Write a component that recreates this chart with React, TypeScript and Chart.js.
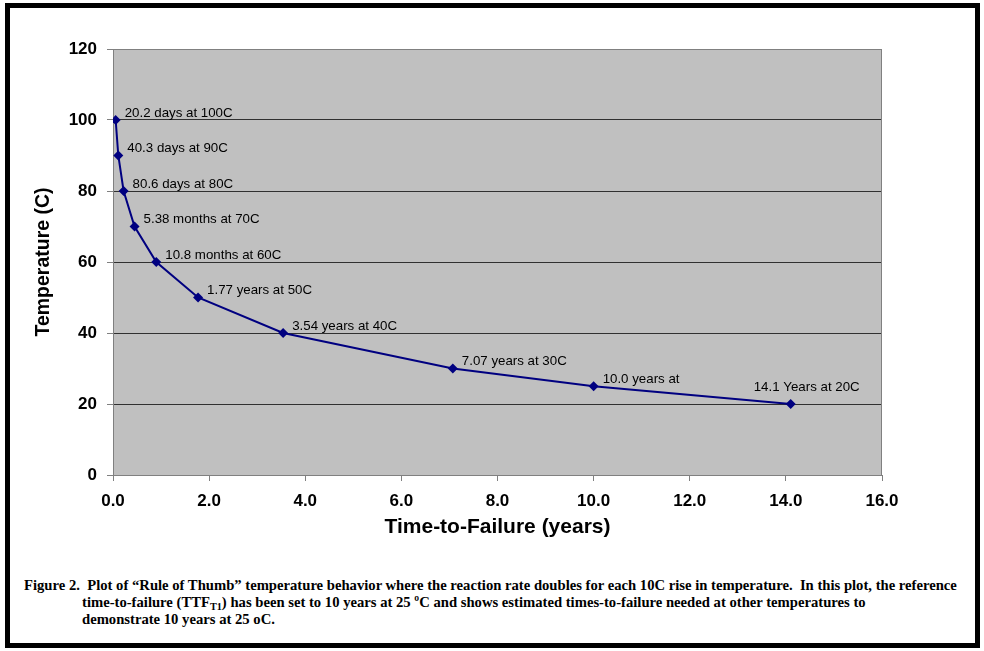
import React, { useEffect, useRef } from "react";
import { Chart, registerables } from "chart.js";

Chart.register(...registerables);

// ---- data ----
const temperatureC = [100, 90, 80, 70, 60, 50, 40, 30, 25, 20];
const timeToFailureYears = [0.0553, 0.1104, 0.2208, 0.4483, 0.9, 1.77, 3.54, 7.07, 10.0, 14.1];
const pointLabels = [
  "20.2 days at 100C",
  "40.3 days at 90C",
  "80.6 days at 80C",
  "5.38 months at 70C",
  "10.8 months at 60C",
  "1.77 years at 50C",
  "3.54 years at 40C",
  "7.07 years at 30C",
  "10.0 years at",
  "14.1 Years at 20C",
];
const xTickValues = [0, 2, 4, 6, 8, 10, 12, 14, 16];
const yTickValues = [0, 20, 40, 60, 80, 100, 120];
const xTitle = "Time-to-Failure (years)";
const yTitle = "Temperature (C)";

const FONT = "Arial, 'Liberation Sans', sans-serif";
const SERIF = "'Liberation Serif', 'Times New Roman', serif";

const plotBackground = {
  id: "plotBackground",
  beforeDraw(chart: any) {
    const { ctx, chartArea: a } = chart;
    ctx.save();
    ctx.fillStyle = "#c0c0c0";
    ctx.fillRect(a.left, a.top, a.right - a.left, a.bottom - a.top);
    ctx.restore();
  },
  beforeDatasetsDraw(chart: any) {
    const { ctx, chartArea: a } = chart;
    ctx.save();
    ctx.strokeStyle = "#808080";
    ctx.lineWidth = 1;
    ctx.strokeRect(a.left + 0.5, a.top + 0.5, a.right - a.left - 1, a.bottom - a.top);
    ctx.restore();
  },
};

const pointLabelPlugin = {
  id: "pointLabelPlugin",
  afterDatasetsDraw(chart: any) {
    const { ctx } = chart;
    const meta = chart.getDatasetMeta(0);
    ctx.save();
    ctx.font = `13.3px ${FONT}`;
    ctx.fillStyle = "#000";
    ctx.textBaseline = "middle";
    meta.data.forEach((el: any, i: number) => {
      const text = pointLabels[i];
      if (!text) return;
      if (i === meta.data.length - 1) {
        ctx.textAlign = "center";
        ctx.fillText(text, el.x + 16, el.y - 17);
      } else {
        ctx.textAlign = "left";
        ctx.fillText(text, el.x + 9, el.y - 7);
      }
    });
    ctx.restore();
  },
};

export default function App() {
  const canvasRef = useRef<HTMLCanvasElement | null>(null);
  const captionRefs = useRef<(HTMLDivElement | null)[]>([]);

  useEffect(() => {
    const fitCaption = () => {
      const first = captionRefs.current[0];
      if (!first) return;
      first.style.transform = "none";
      const w = first.offsetWidth;
      const k = w > 0 ? 933 / w : 1;
      captionRefs.current.forEach((d) => {
        if (d) d.style.transform = `scaleX(${k})`;
      });
    };
    fitCaption();
    if ((document as any).fonts && (document as any).fonts.ready) {
      (document as any).fonts.ready.then(fitCaption);
    }

    const canvas = canvasRef.current;
    if (!canvas) return;
    const chart = new Chart(canvas, {
      type: "line",
      data: {
        datasets: [
          {
            data: timeToFailureYears.map((x, i) => ({ x, y: temperatureC[i] })),
            borderColor: "#000080",
            backgroundColor: "#000080",
            borderWidth: 2,
            pointStyle: "rectRot",
            pointRadius: 5,
            pointBackgroundColor: "#000080",
            pointBorderColor: "#000080",
            pointBorderWidth: 0,
            tension: 0,
            fill: false,
          },
        ],
      },
      options: {
        animation: false,
        responsive: false,
        maintainAspectRatio: false,
        devicePixelRatio: 1,
        layout: { padding: { left: 0, top: 49, right: 102, bottom: 0 } },
        plugins: {
          legend: { display: false },
          tooltip: { enabled: false },
          title: { display: false },
        },
        scales: {
          x: {
            type: "linear",
            min: xTickValues[0],
            max: xTickValues[xTickValues.length - 1],
            afterBuildTicks: (s: any) => {
              s.ticks = xTickValues.map((v) => ({ value: v }));
            },
            afterFit: (s: any) => {
              s.height = 85;
            },
            grid: {
              drawOnChartArea: false,
              drawTicks: true,
              tickLength: 6,
              tickColor: "#808080",
              color: "#808080",
            },
            border: { display: true, color: "#808080" },
            ticks: {
              color: "#000",
              font: { family: FONT, size: 17, weight: "bold" },
              padding: 10,
              maxRotation: 0,
              autoSkip: false,
              callback: (v: any) => Number(v).toFixed(1),
            },
            title: {
              display: true,
              text: xTitle,
              color: "#000",
              font: { family: FONT, size: 21, weight: "bold" },
              padding: { top: 0, bottom: 20 },
            },
          },
          y: {
            type: "linear",
            min: yTickValues[0],
            max: yTickValues[yTickValues.length - 1],
            afterBuildTicks: (s: any) => {
              s.ticks = yTickValues.map((v) => ({ value: v }));
            },
            afterFit: (s: any) => {
              s.width = 113;
            },
            grid: {
              drawTicks: true,
              tickLength: 6,
              tickColor: "#808080",
              color: (c: any) =>
                c.tick && (c.tick.value === yTickValues[0] || c.tick.value === yTickValues[yTickValues.length - 1])
                  ? "rgba(0,0,0,0)"
                  : "#303030",
              lineWidth: 1,
            },
            border: { display: true, color: "#808080" },
            ticks: {
              color: "#000",
              font: { family: FONT, size: 17, weight: "bold" },
              padding: 10,
              autoSkip: false,
              callback: (v: any) => String(v),
            },
            title: {
              display: true,
              text: yTitle,
              color: "#000",
              font: { family: FONT, size: 19.5, weight: "bold" },
              padding: { top: 32, bottom: 0 },
            },
          },
        },
      },
      plugins: [plotBackground, pointLabelPlugin],
    } as any);
    return () => chart.destroy();
  }, []);

  const lineStyle: React.CSSProperties = {
    position: "absolute",
    whiteSpace: "pre",
    fontFamily: SERIF,
    fontWeight: "bold",
    fontSize: "15.5px",
    lineHeight: "17px",
    color: "#000",
    transformOrigin: "left center",
  };
  const subStyle: React.CSSProperties = {
    fontSize: "0.7em",
    verticalAlign: "baseline",
    position: "relative",
    top: "0.25em",
  };

  return (
    <div
      style={{
        position: "absolute",
        left: 0,
        top: 0,
        width: 984,
        height: 651,
        background: "#fff",
        overflow: "hidden",
      }}
    >
      <div
        style={{
          position: "absolute",
          left: 5,
          top: 3,
          width: 975,
          height: 645,
          border: "5px solid #000",
          boxSizing: "border-box",
        }}
      />
      <canvas
        ref={canvasRef}
        width={984}
        height={560}
        style={{ position: "absolute", left: 0, top: 0, width: 984, height: 560 }}
      />
      <div ref={(d) => { captionRefs.current[0] = d; }} style={{ ...lineStyle, left: 24, top: 576 }}>
        {"Figure 2.  Plot of \u201cRule of Thumb\u201d temperature behavior where the reaction rate doubles for each 10C rise in temperature.  In this plot, the reference"}
      </div>
      <div ref={(d) => { captionRefs.current[1] = d; }} style={{ ...lineStyle, left: 82, top: 593 }}>
        {"time-to-failure (TTF"}
        <span style={subStyle}>T1</span>
        {") has been set to 10 years at 25 \u00baC and shows estimated times-to-failure needed at other temperatures to"}
      </div>
      <div ref={(d) => { captionRefs.current[2] = d; }} style={{ ...lineStyle, left: 82, top: 610 }}>
        {"demonstrate 10 years at 25 oC."}
      </div>
    </div>
  );
}
